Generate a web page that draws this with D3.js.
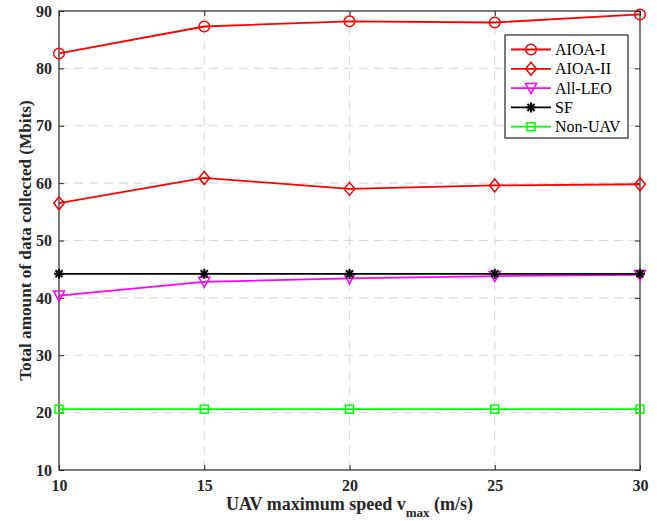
<!DOCTYPE html>
<html>
<head>
<meta charset="utf-8">
<script src="https://cdn.jsdelivr.net/npm/d3@7"></script>
<style>
  body { margin: 0; background: #fff; }
  svg text { font-family: "Liberation Serif", "Times New Roman", serif; font-weight: bold; }
</style>
</head>
<body>
<div id="chart"></div>
<script>
const speeds = [10, 15, 20, 25, 30];
const aioa1 = [82.6, 87.3, 88.2, 88.0, 89.4];
const aioa2 = [56.5, 60.9, 59.0, 59.6, 59.8];
const allLeo = [40.4, 42.8, 43.4, 43.8, 44.0];
const sf = [44.2, 44.2, 44.2, 44.2, 44.2];
const nonUav = [20.6, 20.6, 20.6, 20.6, 20.6];
const xTicks = [10, 15, 20, 25, 30];
const yTicks = [10, 20, 30, 40, 50, 60, 70, 80, 90];

const width = 657, height = 521;
const margin = { top: 11, right: 17, bottom: 51, left: 59 };

const x = d3.scaleLinear().domain([10, 30]).range([margin.left, width - margin.right]);
const y = d3.scaleLinear().domain([10, 90]).range([height - margin.bottom, margin.top]);

const series = [
  { name: "AIOA-I", values: aioa1, color: "#ff0000", marker: "circle" },
  { name: "AIOA-II", values: aioa2, color: "#ff0000", marker: "diamond" },
  { name: "All-LEO", values: allLeo, color: "#ff00ff", marker: "tri" },
  { name: "SF", values: sf, color: "#000000", marker: "star" },
  { name: "Non-UAV", values: nonUav, color: "#00ff00", marker: "square" },
];

const svg = d3.select("#chart").append("svg")
  .attr("width", width).attr("height", height);

// grid
svg.append("g")
  .selectAll("line")
  .data(xTicks.slice(1, -1))
  .join("line")
  .attr("x1", d => x(d)).attr("x2", d => x(d))
  .attr("y1", y(10)).attr("y2", y(90))
  .attr("stroke", "#dcdcdc").attr("stroke-width", 1.2)
  .attr("stroke-dasharray", "9,6");

svg.append("g")
  .selectAll("line")
  .data(yTicks.slice(1, -1))
  .join("line")
  .attr("x1", x(10)).attr("x2", x(30))
  .attr("y1", d => y(d)).attr("y2", d => y(d))
  .attr("stroke", "#dcdcdc").attr("stroke-width", 1.2)
  .attr("stroke-dasharray", "9,6");

// axes
svg.append("g")
  .attr("transform", `translate(0,${y(10)})`)
  .call(d3.axisBottom(x).tickValues(xTicks).tickSize(-5).tickPadding(10).tickSizeOuter(0))
  .call(g => g.select(".domain").remove());
svg.append("g")
  .attr("transform", `translate(${x(10)},0)`)
  .call(d3.axisLeft(y).tickValues(yTicks).tickSize(-5).tickPadding(7).tickSizeOuter(0))
  .call(g => g.select(".domain").remove());
svg.append("g")
  .attr("transform", `translate(0,${y(90)})`)
  .call(d3.axisTop(x).tickValues(xTicks).tickSize(-5).tickFormat("").tickSizeOuter(0))
  .call(g => g.select(".domain").remove());
svg.append("g")
  .attr("transform", `translate(${x(30)},0)`)
  .call(d3.axisRight(y).tickValues(yTicks).tickSize(-5).tickFormat("").tickSizeOuter(0))
  .call(g => g.select(".domain").remove());

svg.selectAll(".tick line").attr("stroke", "#262626");
svg.selectAll(".tick text")
  .attr("font-size", 16).attr("fill", "#262626")
  .attr("font-family", "Liberation Serif").attr("font-weight", "bold");

svg.append("rect")
  .attr("x", x(10)).attr("y", y(90))
  .attr("width", x(30) - x(10)).attr("height", y(10) - y(90))
  .attr("fill", "none").attr("stroke", "#262626").attr("stroke-width", 1.2);

// lines
const line = d3.line().x((d, i) => x(speeds[i])).y(d => y(d));

function drawMarker(g, type, color) {
  if (type === "circle") {
    g.append("circle").attr("r", 5.3).attr("fill", "none").attr("stroke", color).attr("stroke-width", 1.5);
  } else if (type === "diamond") {
    g.append("path").attr("d", "M0,-6.5L5.3,0L0,6.5L-5.3,0Z").attr("fill", "none").attr("stroke", color).attr("stroke-width", 1.5);
  } else if (type === "tri") {
    g.append("path").attr("d", "M-5.5,-4.5L5.5,-4.5L0,5.5Z").attr("fill", "none").attr("stroke", color).attr("stroke-width", 1.5);
  } else if (type === "square") {
    g.append("rect").attr("x", -4).attr("y", -4).attr("width", 8).attr("height", 8)
      .attr("fill", "none").attr("stroke", color).attr("stroke-width", 1.5);
  } else if (type === "star") {
    const r = 5;
    [0, 45, 90, 135].forEach(a => {
      const rad = a * Math.PI / 180;
      g.append("line")
        .attr("x1", -r * Math.cos(rad)).attr("y1", -r * Math.sin(rad))
        .attr("x2", r * Math.cos(rad)).attr("y2", r * Math.sin(rad))
        .attr("stroke", color).attr("stroke-width", 2);
    });
  }
}

series.forEach(s => {
  svg.append("path")
    .datum(s.values)
    .attr("d", line)
    .attr("fill", "none")
    .attr("stroke", s.color)
    .attr("stroke-width", 1.8);
  s.values.forEach((v, i) => {
    const g = svg.append("g").attr("transform", `translate(${x(speeds[i])},${y(v)})`);
    drawMarker(g, s.marker, s.color);
  });
});

// legend
const legend = svg.append("g").attr("transform", "translate(505,35)");
legend.append("rect")
  .attr("width", 123).attr("height", 103)
  .attr("fill", "#fff").attr("stroke", "#262626").attr("stroke-width", 1.2);
series.forEach((s, i) => {
  const row = legend.append("g").attr("transform", `translate(0,${14.5 + i * 19.3})`);
  row.append("line").attr("x1", 6).attr("x2", 46).attr("stroke", s.color).attr("stroke-width", 1.8);
  const m = row.append("g").attr("transform", "translate(26,0)");
  drawMarker(m, s.marker, s.color);
  row.append("text").attr("x", 50).attr("y", 5.5)
    .attr("font-size", 16).attr("fill", "#000")
    .style("font-weight", "normal")
    .text(s.name);
});

// axis titles
const xt = svg.append("text")
  .attr("x", (x(10) + x(30)) / 2).attr("y", 510)
  .attr("text-anchor", "middle").attr("font-size", 18).attr("fill", "#262626");
xt.append("tspan").text("UAV maximum speed v");
xt.append("tspan").attr("font-size", 13).attr("dy", 7).text("max");
xt.append("tspan").attr("dy", -7).text(" (m/s)");

svg.append("text")
  .attr("transform", `translate(31,${(y(10) + y(90)) / 2}) rotate(-90)`)
  .attr("text-anchor", "middle").attr("font-size", 17.2).attr("fill", "#262626")
  .text("Total amount of data collected (Mbits)");
</script>
</body>
</html>
